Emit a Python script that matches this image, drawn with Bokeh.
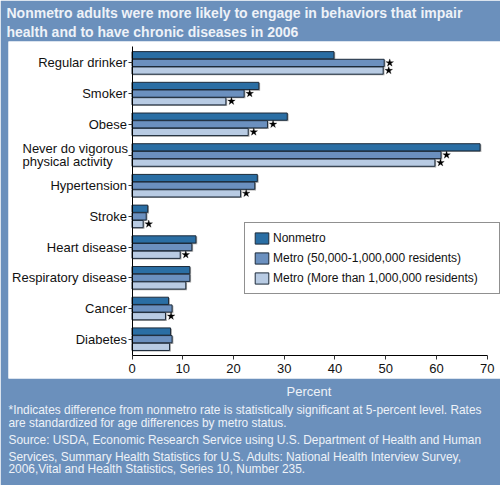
from bokeh.embed import file_html
from bokeh.resources import INLINE
from bokeh.plotting import figure
from bokeh.models import (ColumnDataSource, Range1d, Label, Legend, LegendItem, LinearAxis, FixedTicker, Title)
from bokeh.transform import dodge

categories = ["Regular drinker", "Smoker", "Obese", "Never do vigorous physical activity",
              "Hypertension", "Stroke", "Heart disease", "Respiratory disease", "Cancer", "Diabetes"]
nonmetro = [39.8, 25.0, 30.6, 68.6, 24.7, 3.1, 12.6, 11.4, 7.2, 7.6]
metro_mid = [49.7, 22.1, 26.7, 60.9, 24.2, 2.8, 11.8, 11.4, 7.9, 7.9]
metro_large = [49.5, 18.5, 22.9, 59.7, 21.4, 2.2, 9.5, 10.6, 6.6, 7.4]
sig_mid = [True, True, True, True, False, False, False, False, False, False]
sig_large = [True, True, True, True, True, True, True, False, True, False]
series_names = ["Nonmetro", "Metro (50,000-1,000,000 residents)", "Metro (More than 1,000,000 residents)"]
x_ticks = [0, 10, 20, 30, 40, 50, 60, 70]
never_lines = ["Never do vigorous", "physical activity"]
title_lines = ["Nonmetro adults were more likely to engage in behaviors that impair",
               "health and to have chronic diseases in 2006"]
note_lines = ["*Indicates difference from nonmetro rate is statistically significant at 5-percent level. Rates",
              "are standardized for age differences by metro status.",
              "Source: USDA, Economic Research Service using U.S. Department of Health and Human",
              "Services, Summary Health Statistics for U.S. Adults: National Health Interview Survey,",
              "2006,Vital and Health Statistics, Series 10, Number 235."]

BLUE = "#6b90bc"
COLORS = ["#2a6ea4", "#6b90bf", "#b8cbe3"]
OUTLINE = "#1d2b3a"
FONT = "Liberation Sans"
INK = "#111111"
PALE = "#eef2f8"
W, H = 500, 485
TOP, BOTTOM, LEFT = 41, 378, 8   # white panel on the canvas
ROW_Y0, ROW_STEP = 62.4, 30.7
X0, X_SCALE = 131.5, 5.074

rows = list(range(len(categories)))
row_at = lambda py: (py - ROW_Y0) / ROW_STEP

p = figure(width=W, height=H, output_backend="svg", toolbar_location=None,
           x_range=Range1d((LEFT - X0) / X_SCALE, (W - X0) / X_SCALE),
           y_range=Range1d(row_at(BOTTOM), row_at(TOP)),
           x_axis_location=None, y_axis_location=None,
           min_border_left=LEFT, min_border_right=0, min_border_top=TOP, min_border_bottom=H - BOTTOM)
p.border_fill_color = BLUE
p.background_fill_color = "white"
p.outline_line_color = None
p.grid.visible = False

renderers = []
for vals, col, off in zip((nonmetro, metro_mid, metro_large), COLORS, (-0.25, 0, 0.25)):
    src = ColumnDataSource(dict(row=rows, val=vals))
    p.hbar(y=dodge("row", off + 0.03), right=dodge("val", 0.25), left=0, height=0.247,
           source=src, fill_color="#a3a3a3", line_color=None)
    r = p.hbar(y=dodge("row", off), right="val", left=0, height=0.235, source=src,
               fill_color=col, line_color=OUTLINE, line_width=1)
    renderers.append(r)

for sig, vals, off in ((sig_mid, metro_mid, 0), (sig_large, metro_large, 0.25)):
    src = ColumnDataSource(dict(row=[r for r, s in zip(rows, sig) if s], val=[v for v, s in zip(vals, sig) if s]))
    p.scatter(x=dodge("val", 1.1), y=dodge("row", off), source=src, marker="star",
              size=8, fill_color="black", line_color="black", line_width=0.3)

xaxis = LinearAxis(ticker=FixedTicker(ticks=x_ticks), fixed_location=row_at(354.5), bounds=(0, 70))
yaxis = LinearAxis(ticker=FixedTicker(ticks=rows), fixed_location=0, bounds=(row_at(46), row_at(354.5)),
                   major_label_overrides={i: c for i, c in enumerate(categories)} | {3: " "})
for ax in (xaxis, yaxis):
    ax.axis_line_color = "black"
    ax.major_tick_line_color = "#333333"
    ax.major_tick_in = 0
    ax.major_tick_out = 4
    ax.minor_tick_line_color = None
    ax.major_label_text_font = FONT
    ax.major_label_text_color = INK
    ax.major_label_text_font_size = "13px"
yaxis.major_label_standoff = 1
xaxis.major_label_standoff = 5
p.add_layout(xaxis, "below")
p.add_layout(yaxis, "left")

legend = Legend(items=[LegendItem(label=n, renderers=[r]) for n, r in zip(series_names, renderers)],
                location=(236, 84), orientation="vertical", padding=8, margin=0, spacing=6,
                glyph_width=17, glyph_height=14, label_standoff=3, label_width=218, label_height=14,
                label_text_font=FONT, label_text_font_size="12px", label_text_color=INK,
                border_line_color="#222222", border_line_width=1.5, background_fill_color="white",
                background_fill_alpha=1)
p.add_layout(legend, "center")

for s, y in zip(never_lines, (147.5, 160.5)):
    p.add_layout(Label(x=22 - LEFT, y=BOTTOM - y, x_units="screen", y_units="screen", text=s, text_font=FONT,
                       text_font_size="13px", text_color=INK, text_baseline="middle", text_align="left"))

def band(side, s, size, offset, standoff, bold=False):
    p.add_layout(Title(text=s, text_font=FONT, text_font_size=size, text_color=PALE, align="left",
                       text_font_style="bold" if bold else "normal", offset=offset, standoff=standoff,
                       padding=0), side)

for s, st in zip(title_lines[::-1], (3, 0)):
    band("above", s, "14px", -2, st, True)
band("below", "Percent", "13px", 278, 6)
for s, st in zip(note_lines, (-2, -3, 5, -3, -5)):
    band("below", s, "11.9px", 0, st)

open("out.html", "w").write(file_html(p, INLINE))
